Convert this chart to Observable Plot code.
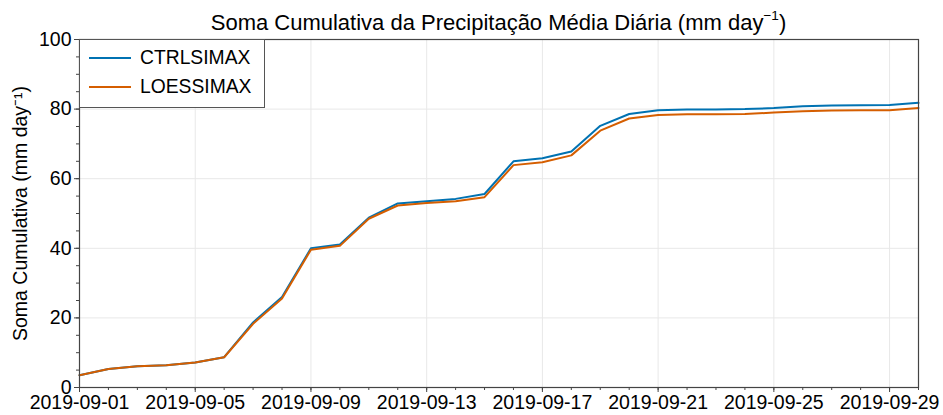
<!DOCTYPE html>
<html><head><meta charset="utf-8">
<script src="https://cdn.jsdelivr.net/npm/d3@7"></script>
<script src="https://cdn.jsdelivr.net/npm/@observablehq/plot@0.6"></script>
<style>
body{margin:0;background:#fff;font-family:"Liberation Sans",Arial,sans-serif;}
#wrap{position:relative;width:943px;height:415px;overflow:hidden;}
#wrap svg{position:absolute;left:0;top:0;}
#title{position:absolute;left:79px;width:839px;top:12px;text-align:center;font-size:22px;line-height:22px;color:#000;white-space:nowrap;}
#title sup{font-size:0.62em;line-height:0;position:relative;top:-0.1em;}
#legend{position:absolute;left:79px;top:39px;width:186px;height:69px;border:1px solid #555;background:#fff;box-sizing:border-box;}
.lg-item{position:absolute;left:0;height:20px;width:185px;}
.lg-swatch{position:absolute;left:9px;width:42px;height:0;border-top:2px solid;top:9px;}
.lg-text{position:absolute;left:60px;top:0;font-size:19.3px;line-height:20px;color:#000;}
</style></head><body>
<div id="wrap"></div>
<script>
const dates = ["2019-09-01","2019-09-02","2019-09-03","2019-09-04","2019-09-05","2019-09-06","2019-09-07","2019-09-08","2019-09-09","2019-09-10",
"2019-09-11","2019-09-12","2019-09-13","2019-09-14","2019-09-15","2019-09-16","2019-09-17","2019-09-18","2019-09-19","2019-09-20",
"2019-09-21","2019-09-22","2019-09-23","2019-09-24","2019-09-25","2019-09-26","2019-09-27","2019-09-28","2019-09-29","2019-09-30"];
const ctrlsimax = [3.5,5.3,6.1,6.4,7.2,8.7,18.7,26.0,40.0,41.1,48.8,52.9,53.5,54.2,55.6,65.0,65.9,67.8,75.2,78.6,79.7,79.9,79.9,80.0,80.3,80.8,81.0,81.1,81.2,81.8];
const loessimax = [3.5,5.3,6.1,6.4,7.2,8.7,18.3,25.6,39.6,40.7,48.5,52.3,53.0,53.5,54.7,63.9,64.7,66.7,73.8,77.3,78.3,78.5,78.5,78.6,79.0,79.4,79.6,79.7,79.7,80.3];
const seriesNames = ["CTRLSIMAX","LOESSIMAX"];
const seriesColors = ["#0072B2","#D55E00"];
const xTickLabels = ["2019-09-01","2019-09-05","2019-09-09","2019-09-13","2019-09-17","2019-09-21","2019-09-25","2019-09-29"];
const yTickValues = [0,20,40,60,80,100];
const yMinorTicks = [0,5,10,15,20,25,30,35,40,45,50,55,60,65,70,75,80,85,90,95,100];
const titleText = "Soma Cumulativa da Precipitação Média Diária (mm day";
const titleSup = "−1";
const yLabelText = "Soma Cumulativa (mm day⁻¹)";

const parse = d3.utcParse("%Y-%m-%d");
const rows = [];
dates.forEach((d,i)=>rows.push({date:parse(d), value:ctrlsimax[i], series:seriesNames[0]}));
dates.forEach((d,i)=>rows.push({date:parse(d), value:loessimax[i], series:seriesNames[1]}));
const xMinor = dates.map(parse);
const xTicks = xTickLabels.map(parse);
const axisColor = "#444";

const chart = Plot.plot({
  width: 943, height: 415,
  marginLeft: 79, marginRight: 25, marginTop: 39, marginBottom: 28,
  style: {fontFamily: '"Liberation Sans", Arial, sans-serif', fontSize: "19.5px", color: "#000", background: "transparent", overflow: "visible"},
  x: {type: "utc", domain: [xMinor[0], xMinor[xMinor.length - 1]]},
  y: {domain: [0, 100]},
  color: {domain: seriesNames, range: seriesColors},
  marks: [
    Plot.gridX(xTicks, {stroke: "#e8e8e8", strokeOpacity: 1}),
    Plot.gridY(yTickValues, {stroke: "#e8e8e8", strokeOpacity: 1}),
    Plot.line(rows, {x: "date", y: "value", stroke: "series", z: "series", strokeWidth: 2}),
    Plot.frame({stroke: axisColor, strokeWidth: 1.2}),
    Plot.axisX(xMinor, {tickSize: 3, text: null, label: null, stroke: axisColor}),
    Plot.axisX(xTicks, {tickSize: 5, tickPadding: 3, tickFormat: d3.utcFormat("%Y-%m-%d"), label: null, stroke: axisColor, fontSize: 19.5}),
    Plot.axisY(yMinorTicks, {tickSize: 3, text: null, label: null, stroke: axisColor}),
    Plot.axisY(yTickValues, {tickSize: 5, tickPadding: 3, stroke: axisColor, fontSize: 19.5,
      label: yLabelText, labelAnchor: "center", labelArrow: "none", labelOffset: 66})
  ]
});

const wrap = document.getElementById("wrap");
wrap.appendChild(chart);

const title = document.createElement("div");
title.id = "title";
title.textContent = titleText;
const sup = document.createElement("sup");
sup.textContent = titleSup;
title.appendChild(sup);
title.appendChild(document.createTextNode(")"));
wrap.appendChild(title);

const legend = document.createElement("div");
legend.id = "legend";
seriesNames.forEach((name, i) => {
  const item = document.createElement("div");
  item.className = "lg-item";
  item.style.top = (8 + i * 29) + "px";
  const sw = document.createElement("div");
  sw.className = "lg-swatch";
  sw.style.borderTopColor = seriesColors[i];
  const tx = document.createElement("div");
  tx.className = "lg-text";
  tx.textContent = name;
  item.appendChild(sw); item.appendChild(tx);
  legend.appendChild(item);
});
wrap.appendChild(legend);
</script>
</body></html>
